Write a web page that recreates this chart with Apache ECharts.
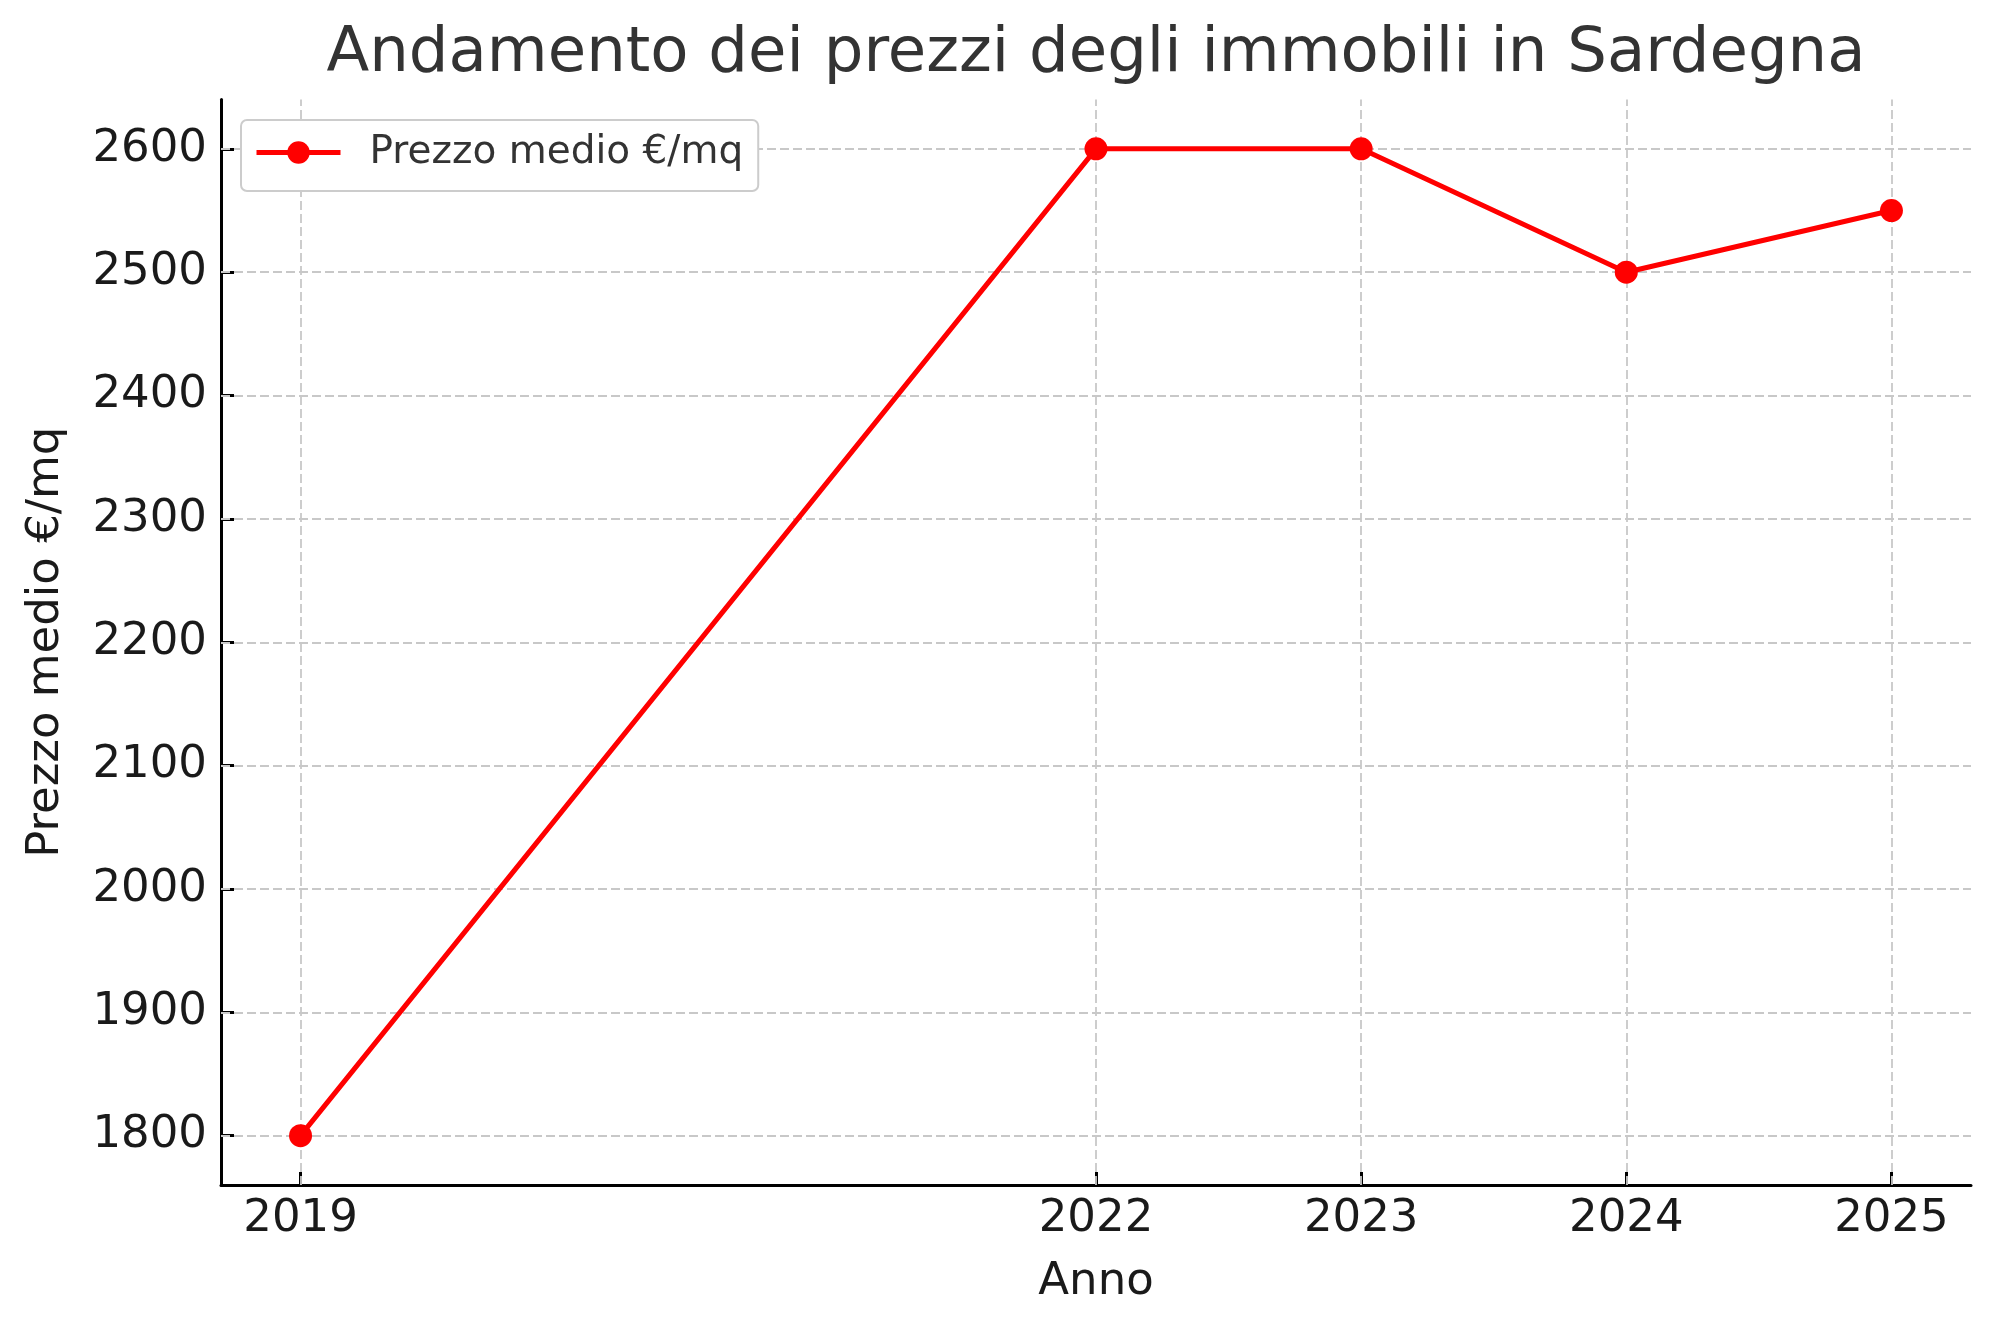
<!DOCTYPE html>
<html>
<head>
<meta charset="utf-8">
<script src="https://cdn.jsdelivr.net/npm/echarts@6/dist/echarts.min.js"></script>
<style>
html,body{margin:0;padding:0;background:#fff;}
#chart{width:2000px;height:1333px;}
</style>
</head>
<body>
<div id="chart"></div>
<script>
const titleText = 'Andamento dei prezzi degli immobili in Sardegna';
const seriesName = 'Prezzo medio €/mq';
const xAxisName = 'Anno';
const yAxisName = 'Prezzo medio €/mq';
const years = [2019, 2022, 2023, 2024, 2025];
const prices = [1800, 2600, 2600, 2500, 2550];
const yTicks = [1800, 1900, 2000, 2100, 2200, 2300, 2400, 2500, 2600];
const xRange = [2018.7, 2025.3];
const yRange = [1760, 2640];

const FONT = 'DejaVu Sans';
const GRID = {left: 221, right: 29, top: 99.5, bottom: 148};
const chart = echarts.init(document.getElementById('chart'), null, {renderer: 'canvas'});

const gridLineStyle = {color: '#c8c8c8', width: 1.8, type: [9, 4]};
const plotCenterX = GRID.left + (2000 - GRID.left - GRID.right) / 2;

chart.setOption({
  animation: false,
  backgroundColor: '#ffffff',
  graphic: [{
    type: 'text',
    x: plotCenterX,
    y: 55,
    z: 10,
    style: {
      text: titleText,
      font: 'normal 62.5px "DejaVu Sans"',
      fill: '#333333',
      align: 'center',
      verticalAlign: 'middle'
    }
  }],
  legend: {
    data: [seriesName],
    left: 241,
    top: 120,
    z: 20,
    orient: 'horizontal',
    padding: [13, 15, 19, 13],
    itemWidth: 84,
    itemHeight: 28,
    itemGap: 10,
    backgroundColor: '#ffffff',
    borderColor: '#cccccc',
    borderWidth: 2,
    borderRadius: 6,
    lineStyle: {width: 5, color: '#ff0000'},
    itemStyle: {color: '#ff0000'},
    textStyle: {fontFamily: FONT, fontSize: 39, lineHeight: 38, color: '#333333', padding: [0, 0, 0, 24]}
  },
  grid: {
    left: GRID.left,
    right: GRID.right,
    top: GRID.top,
    bottom: GRID.bottom,
    containLabel: false,
    outerBoundsMode: 'none'
  },
  xAxis: {
    type: 'value',
    min: xRange[0],
    max: xRange[1],
    name: xAxisName,
    nameLocation: 'middle',
    nameGap: 75,
    nameTextStyle: {fontFamily: FONT, fontSize: 45, color: '#1a1a1a'},
    axisLine: {show: true, onZero: false, lineStyle: {color: '#000000', width: 3}},
    axisTick: {show: true, inside: true, length: 13, lineStyle: {color: '#000000', width: 3}, customValues: years},
    axisLabel: {show: true, margin: 12, fontFamily: FONT, fontSize: 45, color: '#1a1a1a', customValues: years, formatter: v => String(v)},
    splitLine: {show: false}
  },
  yAxis: {
    type: 'value',
    min: yRange[0],
    max: yRange[1],
    name: yAxisName,
    nameLocation: 'middle',
    nameRotate: 90,
    nameGap: 152,
    nameTextStyle: {fontFamily: FONT, fontSize: 45, color: '#1a1a1a'},
    axisLine: {show: true, onZero: false, lineStyle: {color: '#000000', width: 3}},
    axisTick: {show: true, inside: true, length: 13, lineStyle: {color: '#000000', width: 3}, customValues: yTicks},
    axisLabel: {show: true, margin: 14, fontFamily: FONT, fontSize: 45, color: '#1a1a1a', customValues: yTicks, formatter: v => String(v)},
    splitLine: {show: false}
  },
  series: [
    {
      name: '__grid',
      type: 'line',
      data: [],
      z: 1,
      silent: true,
      markLine: {
        silent: true,
        z: 1,
        symbol: ['none', 'none'],
        label: {show: false},
        lineStyle: gridLineStyle,
        emphasis: {disabled: true},
        animation: false,
        data: yTicks.map(v => ({yAxis: v})).concat(years.map(v => ({xAxis: v})))
      }
    },
    {
      name: seriesName,
      type: 'line',
      z: 3,
      data: years.map((y, i) => [y, prices[i]]),
      symbol: 'circle',
      symbolSize: 23,
      showSymbol: true,
      lineStyle: {color: '#ff0000', width: 5},
      itemStyle: {color: '#ff0000'},
      emphasis: {disabled: true}
    }
  ]
});
</script>
</body>
</html>
